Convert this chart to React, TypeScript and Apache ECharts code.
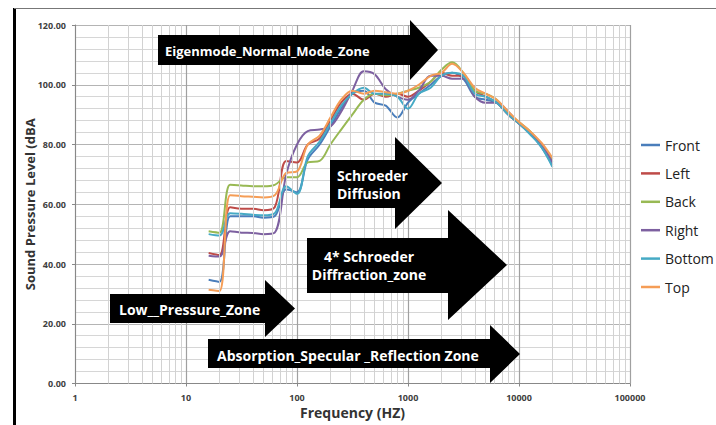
import React, { useEffect, useRef } from "react";
import * as echarts from "echarts";

const frequencies = [16, 20, 25, 31.5, 40, 50, 63, 80, 100, 125, 160, 200, 250, 315, 400, 500, 630, 800, 1000, 1250, 1600, 2000, 2500, 3150, 4000, 5000, 6300, 8000, 10000, 12500, 16000, 20000];

const front = [34.7, 34, 56, 56, 56, 55.5, 56, 65, 64, 75, 80, 86, 92, 97, 98, 94, 93, 89, 94, 97, 100, 103, 104, 102, 96, 95, 94, 90, 87, 84, 79, 73];
const left = [43.7, 43, 59, 58.5, 58.5, 58, 59, 74.5, 74, 80, 82, 88, 94, 97, 95, 97, 96, 97, 96, 98, 101, 104, 103, 103, 98, 96, 94, 90, 87, 84, 80, 75];
const back = [51, 50.5, 66.5, 66.3, 66, 66, 66.5, 69, 69, 74, 74.5, 80, 85, 90, 95, 97, 96.5, 97, 98, 99, 101, 105, 107.5, 104, 98, 97, 95, 90.5, 87.5, 84.5, 80, 75];
const right = [42.8, 42.5, 51, 50.5, 50.4, 50, 50.5, 70, 80, 84.5, 85, 86, 91, 98, 104.5, 103.5, 98.5, 96, 95, 98, 103, 103, 102, 102, 96, 94, 94, 91, 87, 84, 80, 74];
const bottom = [50, 49.5, 57, 56.8, 56.5, 56.3, 57, 66, 63.5, 76, 81, 87, 93, 97, 99, 97, 97, 96, 92, 97, 99, 103, 104, 103, 97, 96, 94, 90, 87, 83.5, 79, 72.5];
const top = [31.4, 31, 63, 62.7, 62.5, 62.3, 63, 70.5, 71, 80, 83, 89, 95, 98, 97, 98, 97.5, 97, 98, 100, 103, 104, 107, 104, 99, 97, 95, 91, 87.5, 84.5, 80.5, 75.5];

const seriesNames = ["Front", "Left", "Back", "Right", "Bottom", "Top"];
const seriesValues = [front, left, back, right, bottom, top];
const seriesColors = ["#4A7EBB", "#BE4B48", "#98B954", "#7D60A0", "#46AAC5", "#F59D56"];

const minorFreqs = [2, 3, 4, 5, 6, 7, 8, 9, 20, 30, 40, 50, 60, 70, 80, 90, 200, 300, 400, 500, 600, 700, 800, 900, 2000, 3000, 4000, 5000, 6000, 7000, 8000, 9000, 20000, 30000, 40000, 50000, 60000, 70000, 80000, 90000];

const FONT = "Open Sans";

function arrow(bx0: number, by0: number, bx1: number, by1: number, hy0: number, tipX: number, tipY: number, hy1: number) {
  return {
    type: "polygon",
    shape: {
      points: [
        [bx0, by0], [bx1, by0], [bx1, hy0], [tipX, tipY], [bx1, hy1], [bx1, by1], [bx0, by1],
      ],
    },
    style: { fill: "#000" },
    z: 10,
  };
}

function label(text: string, x: number, y: number, size: number, align: string = "left") {
  return {
    type: "text",
    x,
    y,
    style: {
      text,
      fill: "#fff",
      font: `bold ${size}px "${FONT}"`,
      align,
      verticalAlign: "middle",
      lineHeight: 18,
    },
    z: 11,
  };
}

export default function App() {
  const ref = useRef<HTMLDivElement>(null);
  useEffect(() => {
    if (!ref.current) return;
    const chart = echarts.init(ref.current, null, { renderer: "svg" });
    const series: any[] = seriesNames.map((name, i) => ({
      name,
      type: "line",
      smooth: 0.35,
      symbol: "none",
      data: frequencies.map((f, j) => [f, seriesValues[i][j]]),
      lineStyle: { width: 2, color: seriesColors[i] },
      itemStyle: { color: seriesColors[i] },
      z: 3,
    }));
    series.push({
      name: "minorGrid",
      type: "line",
      data: [],
      silent: true,
      z: 1,
      markLine: {
        silent: true,
        symbol: ["none", "none"],
        label: { show: false },
        lineStyle: { color: "#d2d2d2", width: 1, type: "solid" },
        data: minorFreqs.map((f) => ({ xAxis: f })),
        animation: false,
      },
    });
    chart.setOption({
      animation: false,
      backgroundColor: "#fff",
      grid: { left: 75, top: 25, width: 555, height: 358.5 },
      xAxis: {
        type: "log",
        logBase: 10,
        min: 1,
        max: 100000,
        name: "Frequency (HZ)",
        nameLocation: "middle",
        nameGap: 22,
        nameMoveOverlap: false,
        nameTextStyle: { fontFamily: FONT, fontWeight: "bold", fontSize: 14, color: "#333" },
        axisLine: { show: true, lineStyle: { color: "#888", width: 1 } },
        axisTick: { show: true, length: 3, lineStyle: { color: "#888" } },
        axisLabel: {
          fontFamily: FONT, fontWeight: "bold", fontSize: 9, color: "#404040", margin: 9,
          formatter: (v: number) => String(Math.round(v)),
        },
        splitLine: { show: true, lineStyle: { color: "#a0a0a0", width: 1.2 } },
      },
      yAxis: {
        type: "value",
        min: 0,
        max: 120,
        interval: 20,
        name: "Sound Pressure Level (dBA",
        nameLocation: "middle",
        nameGap: 45,
        nameMoveOverlap: false,
        nameTextStyle: { fontFamily: FONT, fontWeight: "bold", fontSize: 13, color: "#333", verticalAlign: "middle" },
        axisLine: { show: true, lineStyle: { color: "#888", width: 1 } },
        axisTick: { show: true, length: 3, lineStyle: { color: "#888" } },
        axisLabel: {
          fontFamily: FONT, fontWeight: "bold", fontSize: 9, color: "#404040", margin: 9,
          formatter: (v: number) => v.toFixed(2),
        },
        splitLine: { show: true, lineStyle: { color: "#b4b4b4", width: 1 } },
        minorTick: { show: false, splitNumber: 5 },
        minorSplitLine: { show: true, lineStyle: { color: "#d6d6d6", width: 1 } },
      },
      legend: {
        data: seriesNames,
        orient: "vertical",
        left: 636,
        top: 132,
        icon: "rect",
        itemWidth: 19,
        itemHeight: 2.5,
        itemGap: 12.4,
        textStyle: { fontFamily: FONT, fontSize: 14, color: "#222", lineHeight: 16 },
      },
      series,
      graphic: [
        { type: "rect", shape: { x: 13, y: 8, width: 3, height: 417 }, style: { fill: "#000" }, z: 20 },
        { type: "line", shape: { x1: 14, y1: 8.5, x2: 716, y2: 8.5 }, style: { stroke: "#777", lineWidth: 1 }, z: 20 },
        arrow(158, 35, 410, 65, 20, 438, 50, 80),
        label("Eigenmode_Normal_Mode_Zone", 165, 51, 13),
        arrow(330, 160, 395, 208, 137, 442, 183, 229),
        label("Schroeder\nDiffusion", 337, 184, 14),
        arrow(307, 238, 448, 293, 210, 507, 265, 320),
        label("4* Schroeder\nDiffraction_zone", 369, 265, 14, "center"),
        arrow(110, 294, 265, 323, 280, 295, 308.5, 337),
        label("Low__Pressure_Zone", 119, 309, 14),
        arrow(208, 339, 490, 368, 325, 520, 354, 383),
        label("Absorption_Specular _Reflection Zone", 217, 355, 14),
      ],
    });
    return () => chart.dispose();
  }, []);
  return <div ref={ref} style={{ position: "fixed", left: 0, top: 0, width: 716, height: 425 }} />;
}
